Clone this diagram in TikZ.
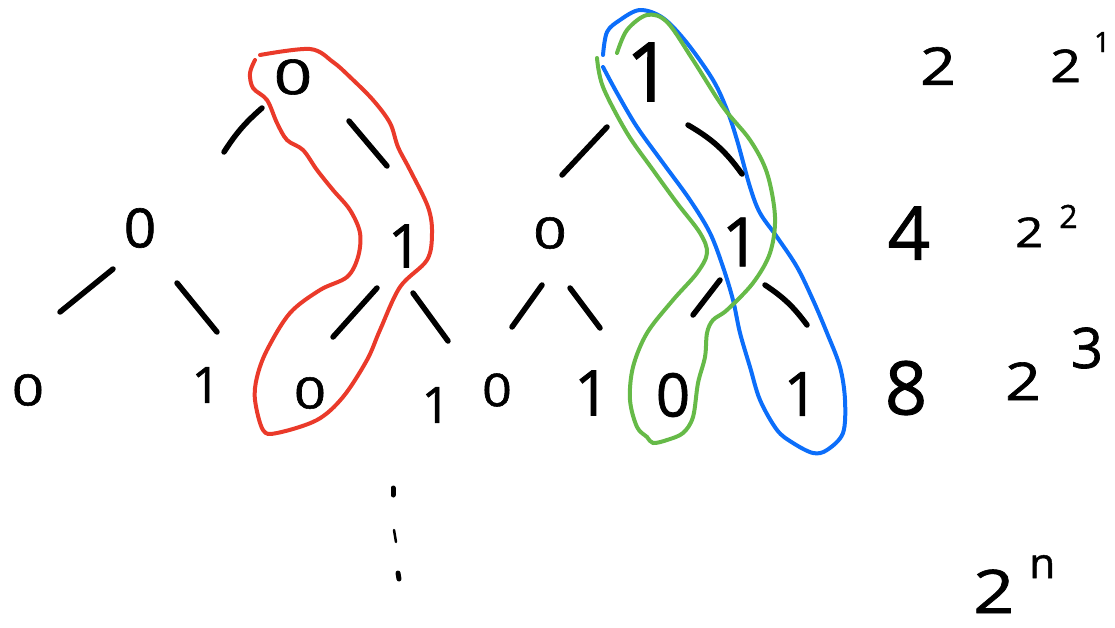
\documentclass[tikz,border=0pt]{standalone}
\usepackage{fontspec}
\usepackage{graphicx}
\setmainfont{Open Sans}
\newfontfamily\handfont[FakeBold=1.2]{Open Sans}
\usetikzlibrary{calc}
\definecolor{loopred}{RGB}{234,58,42}
\definecolor{loopblue}{RGB}{12,110,250}
\definecolor{loopgreen}{RGB}{102,186,72}
\newcommand\wide[2]{\scalebox{#1}[1]{#2}}
\begin{document}
\begin{tikzpicture}[x=1pt,y=-1pt,
  digit/.style={inner sep=0pt, font=\handfont\fontsize{#1pt}{#1pt}\selectfont},
  powlabel/.style={inner sep=0pt, anchor=base west, font=\handfont\fontsize{#1pt}{#1pt}\selectfont},
  branch/.style={line width=5.5pt, line cap=round},
  hand/.style={line width=4pt, line cap=round, line join=round},
  vdot/.style={line width=5pt, line cap=round}]
\useasboundingbox (0,0) rectangle (1115,627);

% loops
\draw[hand, loopred] plot[smooth, tension=0.55] coordinates {
 (260,55) (310,49) (333,62) (350,77) (373,100) (390,123) (398,147) (410,170)
 (428,207) (432,233) (427,260) (400,287) (380,330) (367,360) (343,397) (317,420)
 (277,433) (263,430) (255,400) (257,377) (267,350) (290,313) (320,290) (347,277)
 (358,257) (360,233) (350,210) (333,190) (317,170) (303,150) (287,140) (277,123)
 (267,100) (253,88) (250,73) (255,60)};
\draw[hand, loopblue] plot[smooth, tension=0.55] coordinates {
 (603,55) (607,32) (620,20) (640,10) (663,18) (687,43) (713,80) (727,110)
 (737,140) (750,187) (760,213) (777,237) (797,267) (813,300) (827,333) (840,367)
 (845,400) (843,433) (827,450) (813,453) (793,443) (777,430) (760,400) (750,367)
 (740,333) (733,300) (723,267) (710,233) (690,200) (663,163) (637,127) (617,93)
 (603,67)};
\draw[hand, loopgreen] plot[smooth, tension=0.55] coordinates {
 (617,53) (627,30) (647,15) (667,22) (693,60) (723,107) (750,140) (767,173)
 (775,217) (770,253) (753,283) (727,310) (713,320) (707,333) (705,357) (698,383)
 (693,417) (683,433) (667,440) (653,443) (647,437) (637,427) (630,400) (633,367)
 (647,333) (673,300) (697,273) (707,253) (700,233) (677,203) (653,170) (627,133)
 (603,87) (597,58)};

% tree nodes
\node[digit=48] (r0) at (293,77) {\wide{1.4}{0}};
\node[digit=82] (r1) at (649,72) {1};
\node[digit=54] (a0) at (140,228) {\wide{1.05}{0}};
\node[digit=60] (a1) at (405,246) {1};
\node[digit=43] (a2) at (550,233) {\wide{1.35}{0}};
\node[digit=68] (a3) at (741,242) {1};
\node[digit=43] (b0) at (28,390) {\wide{1.3}{0}};
\node[digit=50] (b1) at (206,385) {1};
\node[digit=43] (b2) at (310,393) {\wide{1.3}{0}};
\node[digit=50] (b3) at (436,405) {1};
\node[digit=45] (b4) at (497,390) {\wide{1.15}{0}};
\node[digit=63] (b5) at (592,393) {1};
\node[digit=60] (b6) at (673,395) {\wide{1.0}{0}};
\node[digit=61] (b7) at (801,394) {1};

% branch strokes (drawn part-way between parent and child)
\coordinate (e1s) at (262,108); \coordinate (e1e) at (224,152);
\coordinate (e2s) at (349,121); \coordinate (e2e) at (387,166);
\coordinate (e3s) at (113,269); \coordinate (e3e) at (60,312);
\coordinate (e4s) at (177,283); \coordinate (e4e) at (217,332);
\coordinate (e5s) at (377,288); \coordinate (e5e) at (333,337);
\coordinate (e6s) at (413,293); \coordinate (e6e) at (448,341);
\coordinate (e7s) at (607,127); \coordinate (e7e) at (562,175);
\coordinate (e8s) at (688,125); \coordinate (e8e) at (742,174);
\coordinate (e9s) at (542,285); \coordinate (e9e) at (512,327);
\coordinate (e10s) at (570,288); \coordinate (e10e) at (600,328);
\coordinate (e11s) at (720,280); \coordinate (e11e) at (693,315);
\coordinate (e12s) at (765,285); \coordinate (e12e) at (807,325);
\draw[branch] (e1s) to[bend right=8] (e1e);
\draw[branch] (e2s) -- (e2e);
\draw[branch] (e3s) -- (e3e);
\draw[branch] (e4s) -- (e4e);
\draw[branch] (e5s) -- (e5e);
\draw[branch] (e6s) -- (e6e);
\draw[branch] (e7s) -- (e7e);
\draw[branch] (e8s) to[bend left=12] (e8e);
\draw[branch] (e9s) -- (e9e);
\draw[branch] (e10s) -- (e10e);
\draw[branch] (e11s) -- (e11e);
\draw[branch] (e12s) to[bend left=10] (e12e);

% vertical dots
\coordinate (d1a) at (393,488); \coordinate (d1b) at (393,495);
\coordinate (d2a) at (394,530); \coordinate (d2b) at (396,542);
\coordinate (d3a) at (398,573); \coordinate (d3b) at (399,579);
\draw[vdot] (d1a) -- (d1b);
\draw[vdot, line width=2.5pt] (d2a) -- (d2b);
\draw[vdot] (d3a) -- (d3b);

% counts
\node[digit=52] (c1) at (938,66) {\wide{1.2}{2}};
\node[digit=74] (c2) at (909,233) {4};
\node[digit=74] (c3) at (906,388) {8};

% powers
\node[powlabel=45] (p1) at (1050,82) {\wide{1.2}{2}\hspace{13pt}\raisebox{30pt}{\fontsize{28pt}{28pt}\selectfont 1}};
\node[powlabel=41] (p2) at (1015,247) {\wide{1.2}{2}\hspace{16pt}\raisebox{19pt}{\fontsize{32pt}{32pt}\selectfont 2}};
\node[powlabel=52] (p3) at (1005,400) {\wide{1.2}{2}\hspace{30pt}\raisebox{32pt}{\fontsize{56pt}{56pt}\selectfont 3}};
\node[powlabel=60] (pn) at (973,613) {\wide{1.2}{2}\hspace{15pt}\raisebox{35pt}{\fontsize{42pt}{42pt}\selectfont n}};
\end{tikzpicture}
\end{document}
